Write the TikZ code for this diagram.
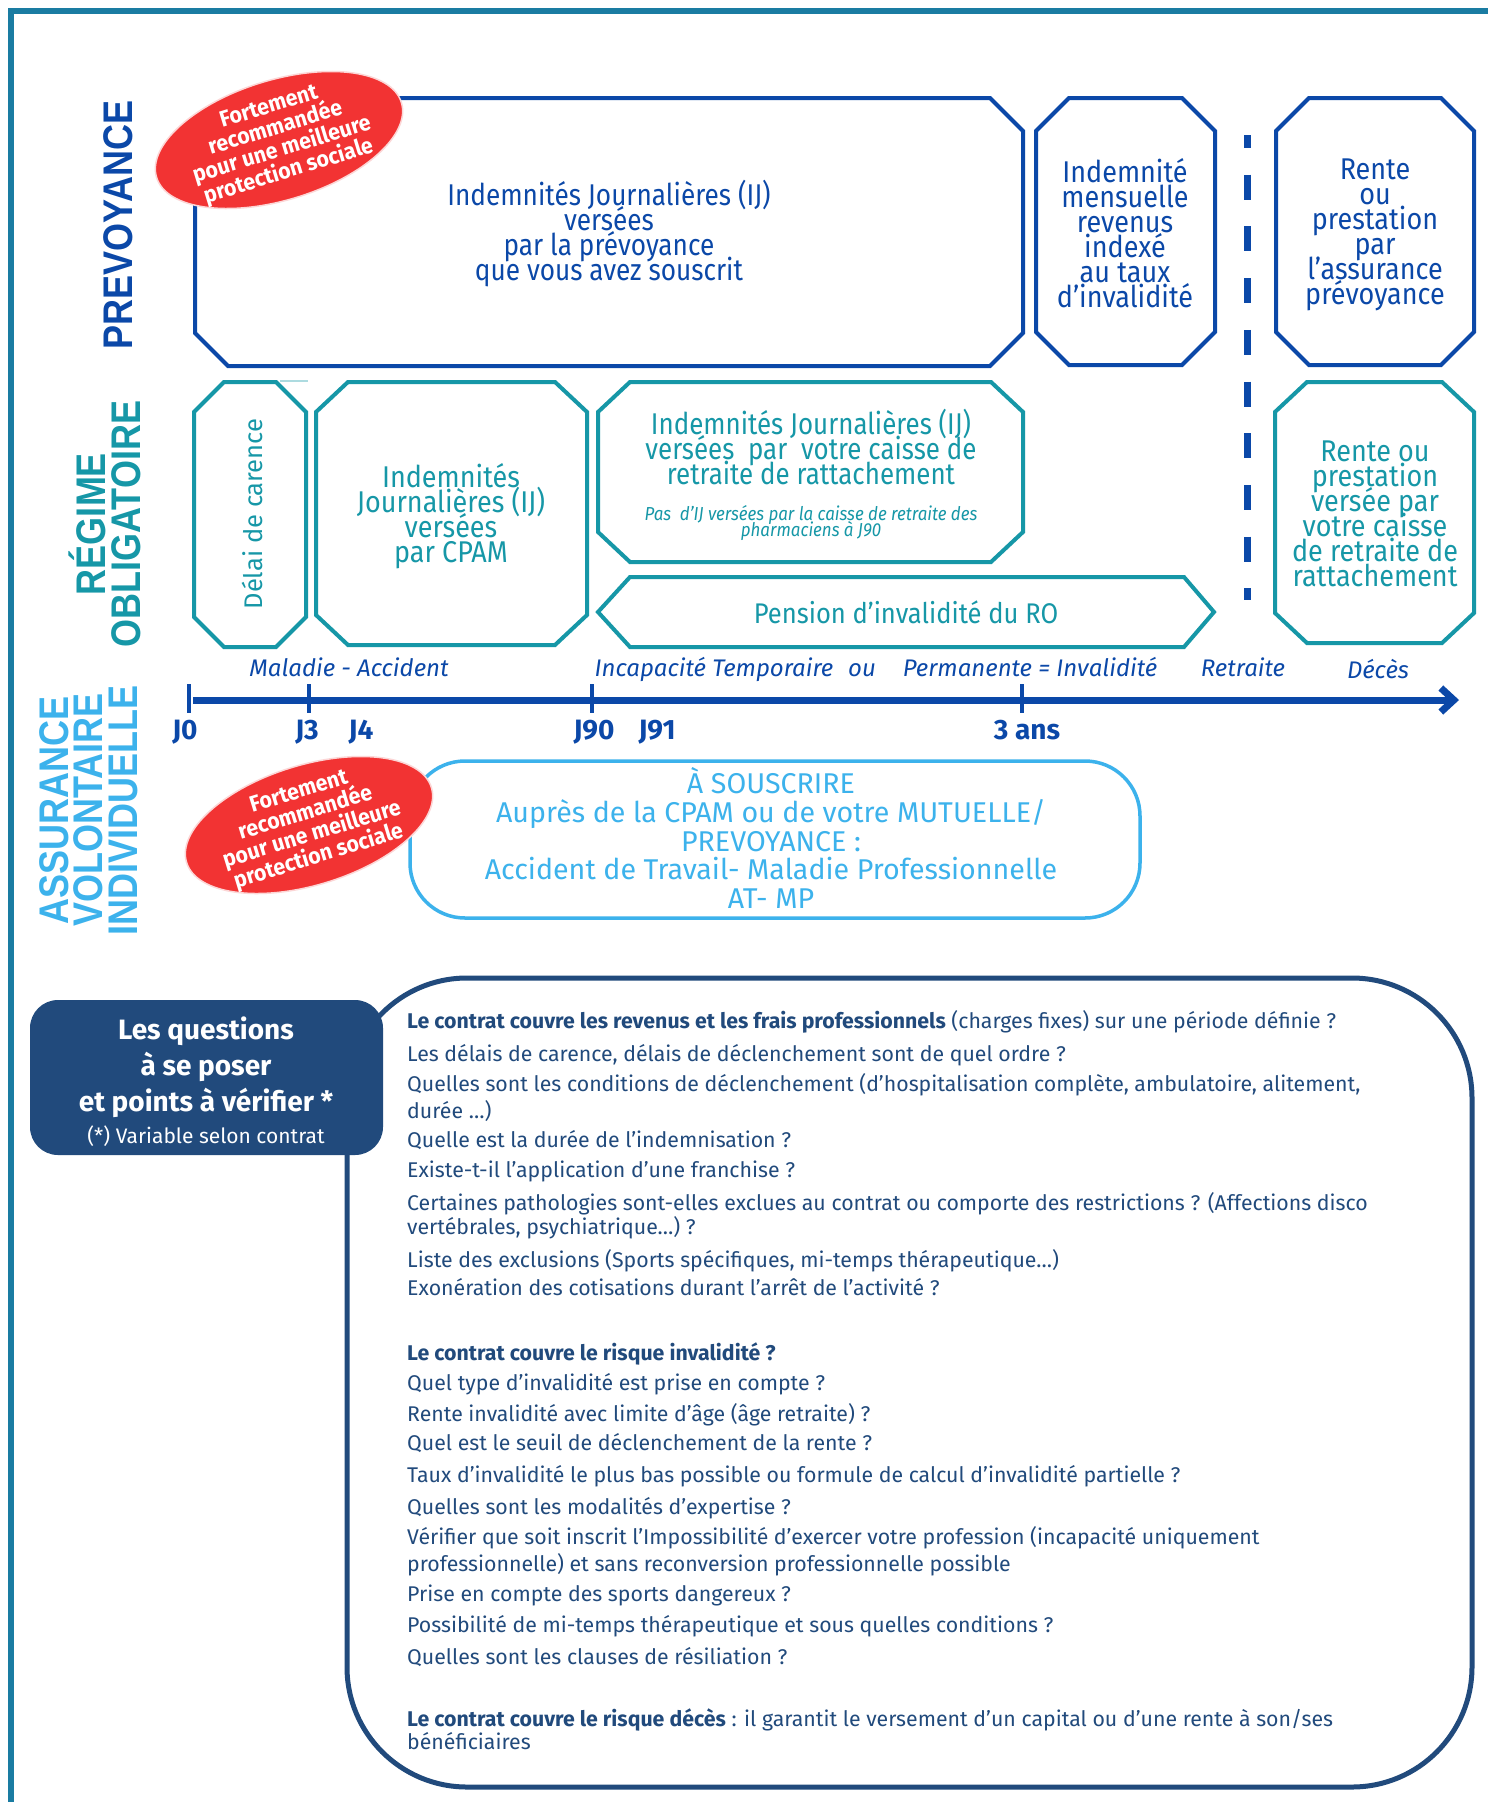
\documentclass[tikz,border=0pt]{standalone}
\usepackage{fontspec}
\setmainfont{Fira Sans}
\newfontfamily\labelfont{Liberation Sans}
\usetikzlibrary{shapes.geometric, arrows.meta}
\definecolor{problue}{HTML}{0B48A8}
\definecolor{roteal}{HTML}{1697A7}
\definecolor{avblue}{HTML}{3CB2EC}
\definecolor{tagred}{HTML}{F23333}
\definecolor{navy}{HTML}{214A7C}
\definecolor{framecol}{HTML}{1A7CA2}
\lineskiplimit=-40pt % keep the tight line spacing regular
\tikzset{
probox/.style={draw=problue, line width=4pt}, % boxes of the prevoyance row
robox/.style={draw=roteal, line width=4pt}, % boxes of the regime obligatoire row
protext/.style={text=problue, align=center, xscale=0.9, font=\fontsize{30}{25}\selectfont},
rotext/.style={text=roteal, align=center, xscale=0.9, font=\fontsize{30}{25}\selectfont},
sidelabel/.style={rotate=90, yscale=1.15, align=center, font=\labelfont\bfseries\fontsize{36}{30}\selectfont},
redtag/.style={ellipse, fill=tagred, draw=white!80!tagred, line width=1.5pt, inner sep=0pt, minimum width=256pt, minimum height=120pt, rotate=17},
tagtext/.style={text=white, align=center, rotate=17, xscale=0.95, font=\bfseries\fontsize{22.5}{22.5}\selectfont},
axislabel/.style={text=problue, anchor=base, font=\itshape\fontsize{24}{28}\selectfont},
daylabel/.style={text=problue, anchor=base, font=\bfseries\fontsize{28}{30}\selectfont},
tick/.style={draw=problue, line width=3.5pt},
atmpbox/.style={draw=avblue, line width=3.5pt, rounded corners=55pt, minimum width=730pt, minimum height=157pt},
qline/.style={text=navy, anchor=base west, inner sep=0pt, font=\fontsize{21.3}{24}\selectfont},
}
\begin{document}
\begin{tikzpicture}[x=1pt, y=-1pt]
\fill[white] (0,0) rectangle (1488,1802);
\useasboundingbox (0,0) rectangle (1488,1802);
\draw[framecol, line width=6pt] (11,1802) -- (11,11) -- (1488,11);

% row labels
\node[sidelabel, text=problue] (prevlab) at (118,225) {PREVOYANCE};
\node[sidelabel, text=roteal] (rolab) at (105,524) {RÉGIME\\OBLIGATOIRE};
\node[sidelabel, text=avblue] (avlab) at (88.5,810) {ASSURANCE\\VOLONTAIRE\\INDIVIDUELLE};

% prevoyance
\draw[probox] (195,131) -- (228,98) -- (990,98) -- (1023,131) -- (1023,333) -- (990,366) -- (228,366) -- (195,333) -- cycle;
\draw[probox] (1036,131) -- (1069,98) -- (1182,98) -- (1215,131) -- (1215,332) -- (1182,365) -- (1069,365) -- (1036,332) -- cycle;
\draw[probox] (1276,131) -- (1309,98) -- (1441,98) -- (1474,131) -- (1474,332) -- (1441,365) -- (1309,365) -- (1276,332) -- cycle;
\node[protext, xscale=0.97] (pij) at (609,234) {Indemnités Journalières (IJ)\\versées\\par la prévoyance\\que vous avez souscrit};
\node[protext] (pmens) at (1125,233) {Indemnité\\mensuelle\\revenus\\indexé\\au taux\\d’invalidité};
\node[protext] (prente) at (1375,235) {Rente\\ou\\prestation\\par\\l'assurance\\prévoyance};
\node[redtag] (tagprev) at (279,140) {};
\node[tagtext] (tagprevtxt) at (tagprev.center) {Fortement\\recommandée\\pour une meilleure\\protection sociale};

\draw[problue, line width=7pt, dash pattern=on 25pt off 26.7pt, dash phase=12pt] (1247,135) -- (1247,600);

% regime obligatoire
\draw[robox] (194,412) -- (224,382) -- (276,382) -- (306,412) -- (306,617) -- (276,647) -- (224,647) -- (194,617) -- cycle;
\draw[roteal!35, line width=1.5pt] (280,381) -- (308,381);
\draw[robox] (316,412) -- (348,382) -- (555,382) -- (587,412) -- (587,615) -- (555,645) -- (348,645) -- (316,615) -- cycle;
\draw[robox] (598,412) -- (630,382) -- (991,382) -- (1023,412) -- (1023,532) -- (991,562) -- (630,562) -- (598,532) -- cycle;
\draw[robox] (598,612) -- (630,577) -- (1184,577) -- (1214,612) -- (1184,647) -- (630,647) -- cycle;
\draw[robox] (1275,412) -- (1307,382) -- (1442,382) -- (1474,412) -- (1474,613) -- (1442,643) -- (1307,643) -- (1275,613) -- cycle;
\node[rotate=90, text=roteal, font=\fontsize{25.5}{30}\selectfont] (carence) at (252,514) {Délai de carence};
\node[rotext] (rcpam) at (451,516) {Indemnités\\Journalières (IJ)\\versées\\par CPAM};
\node[rotext, xscale=0.96] (rcaisse) at (811,447) {Indemnités Journalières (IJ)\\versées\ \ par\ \ votre caisse de\\retraite de rattachement};
\node[rotext, font=\itshape\fontsize{18.8}{16}\selectfont] (rpharma) at (811,523) {Pas\ \ d’IJ versées par la caisse de retraite des\\pharmaciens à J90};
\node[rotext, font=\fontsize{28.4}{25}\selectfont] (rpension) at (906,612) {Pension d’invalidité du RO};
\node[rotext] (rrente) at (1375,514) {Rente ou\\prestation\\versée par\\votre caisse\\de retraite de\\rattachement};

% time axis
\coordinate (t0) at (193,700);
\coordinate (tend) at (1459,700);
\draw[problue, line width=7pt, -{Straight Barb[length=13pt, width=24pt]}] (t0) -- (tend);
\foreach \x in {189,309,592,1022}
  \draw[tick] (\x,684) -- (\x,713);
\node[axislabel] (malacc) at (349,676) {Maladie - Accident};
\node[axislabel] (incap) at (714,676) {Incapacité Temporaire};
\node[axislabel] (ou) at (862,676) {ou};
\node[axislabel] (perm) at (1030,676) {Permanente = Invalidité};
\node[axislabel] (retr) at (1243,676) {Retraite};
\node[axislabel] (deces) at (1378,678) {Décès};
\node[daylabel] (j0) at (185,739) {J0};
\node[daylabel] (j3) at (307,739) {J3};
\node[daylabel] (j4) at (361,739) {J4};
\node[daylabel] (j90) at (594,739) {J90};
\node[daylabel] (j91) at (657,739) {J91};
\node[daylabel] (ans3) at (1027,739) {3 ans};

% assurance volontaire
\node[atmpbox] (atmp) at (775,839.5) {};
\node[text=avblue, align=center, font=\fontsize{28.6}{28.75}\selectfont] (atmptxt) at (771,838) {À SOUSCRIRE\\Auprès de la CPAM ou de votre MUTUELLE/\\PREVOYANCE :\\Accident de Travail- Maladie Professionnelle\\AT- MP};
\node[redtag] (tagav) at (309,825) {};
\node[tagtext] (tagavtxt) at (tagav.center) {Fortement\\recommandée\\pour une meilleure\\protection sociale};

% questions
\draw[navy, line width=5pt, rounded corners=120pt] (347,978) rectangle (1472,1787);
\node[fill=navy, rounded corners=28pt, minimum width=353pt, minimum height=155pt] (qhead) at (206.5,1077.5) {};
\node[text=white, align=center, font=\bfseries\fontsize{28}{36}\selectfont] (qheadtxt) at (206,1082) {Les questions\\à se poser\\et points à vérifier *\\[-4pt]{\mdseries\fontsize{21}{26}\selectfont (*) Variable selon contrat}};
\foreach \yy/\txt [count=\i] in {
  1028/{\textbf{Le contrat couvre les revenus et les frais professionnels} (charges fixes) sur une période définie ?},
  1061/{Les délais de carence, délais de déclenchement sont de quel ordre ?},
  1091/{Quelles sont les conditions de déclenchement (d’hospitalisation complète, ambulatoire, alitement,},
  1118/{durée …)},
  1147/{Quelle est la durée de l’indemnisation ?},
  1177/{Existe-t-il l’application d’une franchise ?},
  1210/{Certaines pathologies sont-elles exclues au contrat ou comporte des restrictions ? (Affections disco},
  1234/{vertébrales, psychiatrique…) ?},
  1267/{Liste des exclusions (Sports spécifiques, mi-temps thérapeutique…)},
  1295/{Exonération des cotisations durant l’arrêt de l’activité ?},
  1360/{\textbf{Le contrat couvre le risque invalidité ?}},
  1390/{Quel type d’invalidité est prise en compte ?},
  1421/{Rente invalidité avec limite d’âge (âge retraite) ?},
  1450/{Quel est le seuil de déclenchement de la rente ?},
  1482/{Taux d’invalidité le plus bas possible ou formule de calcul d’invalidité partielle ?},
  1514/{Quelles sont les modalités d’expertise ?},
  1544/{Vérifier que soit inscrit l’Impossibilité d’exercer votre profession (incapacité uniquement},
  1571/{professionnelle) et sans reconversion professionnelle possible},
  1601/{Prise en compte des sports dangereux ?},
  1632/{Possibilité de mi-temps thérapeutique et sous quelles conditions ?},
  1664/{Quelles sont les clauses de résiliation ?},
  1726/{\textbf{Le contrat couvre le risque décès} : il garantit le versement d’un capital ou d’une rente à son/ses},
  1749/{bénéficiaires}}
  \node[qline] (q\i) at (407,\yy) {\txt};
\end{tikzpicture}
\end{document}
